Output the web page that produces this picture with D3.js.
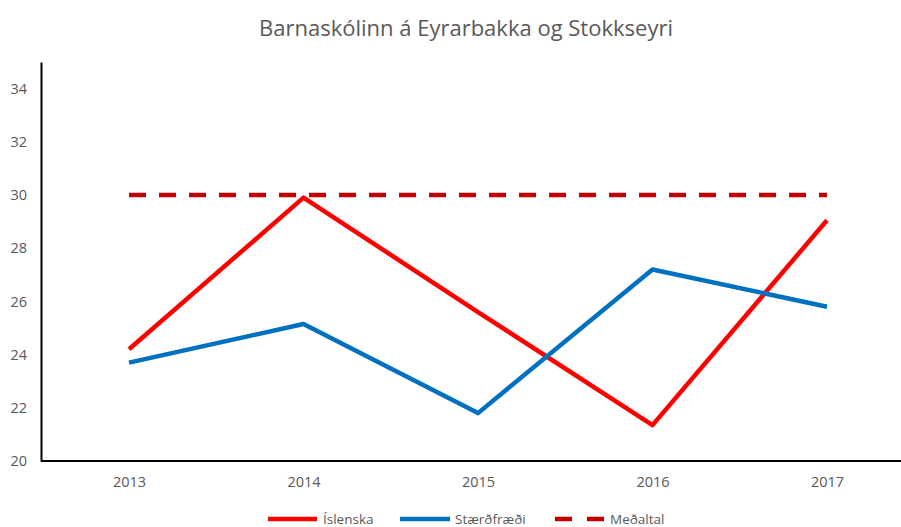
<!DOCTYPE html>
<html><head><meta charset="utf-8">
<script src="https://cdn.jsdelivr.net/npm/d3@7"></script>
<style>body{margin:0;background:#fff}svg{display:block}text{font-family:"Open Sans",Calibri,sans-serif;fill:#595959}</style>
</head><body><svg id="c" width="901" height="527"></svg>
<script>
const years = ["2013","2014","2015","2016","2017"];
const islenska = [24.2, 29.9, 25.6, 21.35, 29.05];
const staerdfraedi = [23.7, 25.15, 21.8, 27.2, 25.8];
const medaltal = [30, 30, 30, 30, 30];
const yTicks = [20,22,24,26,28,30,32,34];
const title = "Barnaskólinn á Eyrarbakka og Stokkseyri";
const seriesNames = ["Íslenska","Stærðfræði","Meðaltal"];

const svg = d3.select("#c");
const x = d3.scalePoint().domain(years).range([129, 827]);
const y = d3.scaleLinear().domain([20,35]).range([461, 62]);

svg.append("text").attr("x",466).attr("y",36).attr("text-anchor","middle")
  .style("font-size","22px").text(title);

const ya = svg.append("g").attr("transform","translate(41,0)")
  .call(d3.axisLeft(y).tickValues(yTicks).tickSize(0).tickPadding(14));
ya.select(".domain").attr("stroke","#000").attr("stroke-width",2);
ya.selectAll("text").style("font-size","14.5px").style("fill","#595959").attr("font-family",null);

const xa = svg.append("g").attr("transform","translate(0,461)")
  .call(d3.axisBottom(x).tickSize(0).tickPadding(16));
xa.select(".domain").attr("d","M41,0H901").attr("stroke","#000").attr("stroke-width",2);
xa.selectAll("text").style("font-size","14.5px").style("fill","#595959").attr("font-family",null);

const line = d3.line().x((d,i)=>x(years[i])).y(d=>y(d));
const series = [
  {vals: islenska, color:"#FF0000", dash:null},
  {vals: staerdfraedi, color:"#0070C0", dash:null},
  {vals: medaltal, color:"#C00000", dash:"17,13"}
];
[series[2], series[0], series[1]].forEach(s=>{
  svg.append("path").attr("d", line(s.vals)).attr("fill","none")
    .attr("stroke", s.color).attr("stroke-width",4.5)
    .attr("stroke-linejoin","round").attr("stroke-dasharray", s.dash);
});

const leg = [
  {x1:268, x2:317, tx:323, color:"#FF0000", dash:null},
  {x1:400, x2:450, tx:455, color:"#0070C0", dash:null},
  {x1:555, x2:604, tx:610, color:"#C00000", dash:"17,15"}
];
leg.forEach((l,i)=>{
  svg.append("line").attr("x1",l.x1).attr("x2",l.x2).attr("y1",519).attr("y2",519)
    .attr("stroke",l.color).attr("stroke-width",4.5).attr("stroke-dasharray",l.dash);
  svg.append("text").attr("x",l.tx).attr("y",524).style("font-size","13.5px").text(seriesNames[i]);
});
</script></body></html>
